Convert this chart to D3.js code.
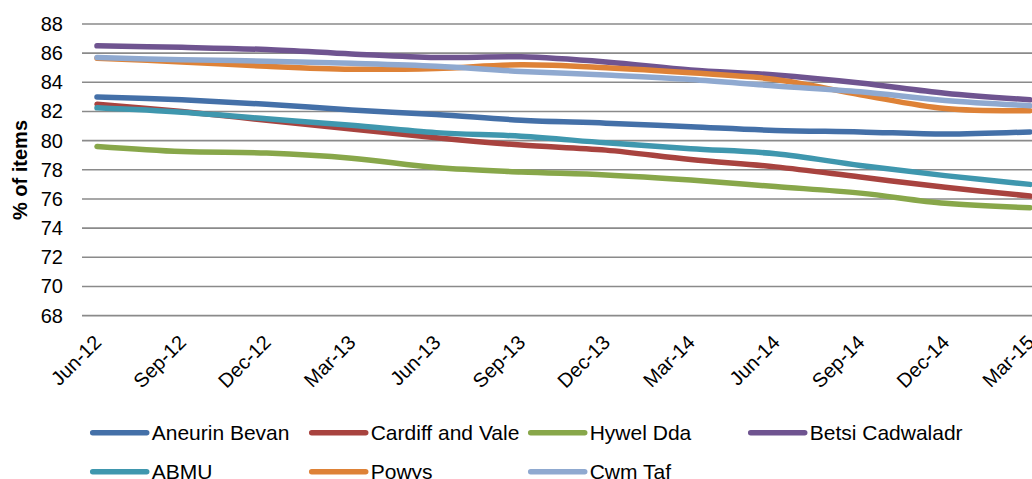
<!DOCTYPE html>
<html>
<head>
<meta charset="utf-8">
<script src="https://cdn.jsdelivr.net/npm/d3@7"></script>
<style>
  html, body { margin: 0; padding: 0; background: #fff; }
  svg { display: block; font-family: "Liberation Sans", Arial, sans-serif; }
</style>
</head>
<body>
<svg id="chart" width="1032" height="479"></svg>
<script>
const categories = ["Jun-12","Sep-12","Dec-12","Mar-13","Jun-13","Sep-13","Dec-13","Mar-14","Jun-14","Sep-14","Dec-14","Mar-15"];
const yTicks = [68,70,72,74,76,78,80,82,84,86,88];

const aneurinBevan     = [83.0, 82.8, 82.5, 82.1, 81.8, 81.4, 81.2, 80.95, 80.7, 80.6, 80.45, 80.6];
const cardiffAndVale   = [82.5, 82.0, 81.4, 80.8, 80.2, 79.7, 79.35, 78.7, 78.2, 77.5, 76.8, 76.2];
const hywelDda         = [79.6, 79.25, 79.15, 78.8, 78.15, 77.85, 77.65, 77.3, 76.85, 76.4, 75.7, 75.4];
const betsiCadwaladr   = [86.5, 86.4, 86.25, 85.95, 85.7, 85.75, 85.4, 84.85, 84.5, 83.95, 83.25, 82.8];
const abmu             = [82.25, 81.95, 81.5, 81.05, 80.55, 80.3, 79.85, 79.45, 79.1, 78.3, 77.6, 77.0];
const powys            = [85.65, 85.4, 85.1, 84.9, 84.95, 85.2, 85.0, 84.65, 84.2, 83.15, 82.2, 82.05];
const cwmTaf           = [85.7, 85.55, 85.45, 85.3, 85.1, 84.75, 84.5, 84.2, 83.75, 83.35, 82.75, 82.4];

const seriesNames  = ["Aneurin Bevan","Cardiff and Vale","Hywel Dda","Betsi Cadwaladr","ABMU","Powys","Cwm Taf"];
const seriesValues = [aneurinBevan, cardiffAndVale, hywelDda, betsiCadwaladr, abmu, powys, cwmTaf];
const seriesColors = ["#4470a8","#a8433f","#88a74a","#6f5490","#3f97ae","#de8237","#8fa9d0"];

const svg = d3.select("#chart");
const plotLeft = 82, plotRight = 1032;

const x = d3.scalePoint().domain(categories).range([97, 1030]);
const y = d3.scaleLinear().domain([68, 88]).range([315.6, 24]);

// gridlines
svg.append("g").selectAll("line").data(yTicks).join("line")
  .attr("x1", plotLeft).attr("x2", plotRight)
  .attr("y1", d => y(d)).attr("y2", d => y(d))
  .attr("stroke", "#8a8a8a").attr("stroke-width", 1.6);

// y axis labels
const yAxis = d3.axisLeft(y).tickValues(yTicks).tickSize(0).tickPadding(0);
const gy = svg.append("g").attr("transform", "translate(63,0)").call(yAxis);
gy.select(".domain").remove();
gy.selectAll("text").attr("font-size", 20).attr("fill", "#000")
  .attr("font-family", "Liberation Sans, Arial, sans-serif");

// x axis labels
const xAxis = d3.axisBottom(x).tickSize(0).tickPadding(0);
const gx = svg.append("g").attr("transform", "translate(0,315.6)").call(xAxis);
gx.select(".domain").remove();
gx.selectAll("text")
  .attr("font-size", 20).attr("fill", "#000")
  .attr("font-family", "Liberation Sans, Arial, sans-serif")
  .attr("text-anchor", "end")
  .attr("y", 0).attr("dy", 0)
  .attr("transform", "translate(5,28) rotate(-45)");

// y title
svg.append("text")
  .attr("transform", "translate(27,170) rotate(-90)")
  .attr("text-anchor", "middle")
  .attr("font-size", 20).attr("font-weight", "bold")
  .text("% of items");

// lines
const line = d3.line()
  .x((d, i) => x(categories[i]))
  .y(d => y(d))
  .curve(d3.curveCatmullRom.alpha(0.5));

svg.append("g").selectAll("path").data(seriesValues).join("path")
  .attr("d", d => line(d))
  .attr("fill", "none")
  .attr("stroke", (d, i) => seriesColors[i])
  .attr("stroke-width", 5.5)
  .attr("stroke-linejoin", "round")
  .attr("stroke-linecap", "round");

// legend
const legCols = [92.7, 311.7, 530.7, 750.7];
const legRows = [432.7, 471.7];
const leg = svg.append("g").selectAll("g").data(seriesNames).join("g")
  .attr("transform", (d, i) => `translate(${legCols[i % 4]},${legRows[Math.floor(i / 4)]})`);
leg.append("line")
  .attr("x1", 0).attr("x2", 54).attr("y1", 0).attr("y2", 0)
  .attr("stroke", (d, i) => seriesColors[i])
  .attr("stroke-width", 5.5).attr("stroke-linecap", "round");
leg.append("text")
  .attr("x", 59).attr("y", 0).attr("dy", "0.35em")
  .attr("font-size", 21).attr("fill", "#000")
  .text(d => d);
</script>
</body>
</html>
